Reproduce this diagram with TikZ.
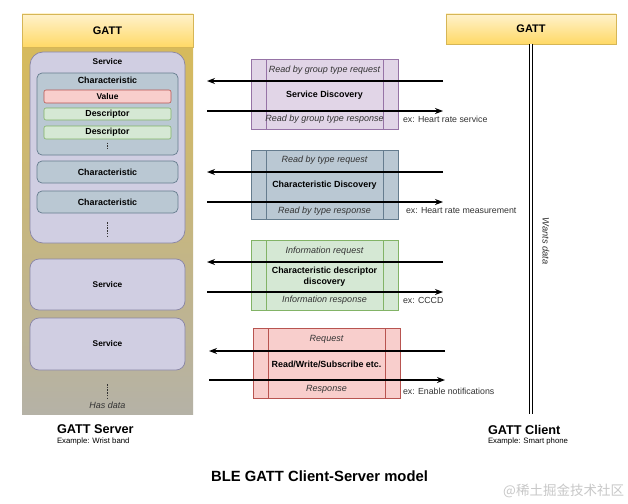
\documentclass[tikz,border=0pt]{standalone}
\usepackage{fontspec}
\setmainfont{Liberation Sans}
\newfontfamily\cjk{Noto Sans CJK SC}
\usetikzlibrary{arrows.meta}
\definecolor{hdrtop}{HTML}{FFF2CC}
\definecolor{hdrbot}{HTML}{FFD966}
\definecolor{hdrline}{HTML}{D6B656}
\definecolor{bodytop}{RGB}{214,186,92}
\definecolor{bodybot}{RGB}{181,178,166}
\definecolor{svcfill}{HTML}{D0CEE2}
\definecolor{svcline}{HTML}{56517E}
\definecolor{chfill}{HTML}{BAC8D3}
\definecolor{chline}{HTML}{23445D}
\definecolor{redfill}{HTML}{F8CECC}
\definecolor{redline}{HTML}{B85450}
\definecolor{grnfill}{HTML}{D5E8D4}
\definecolor{grnline}{HTML}{82B366}
\definecolor{purfill}{HTML}{E1D5E7}
\definecolor{purline}{HTML}{9673A6}
\definecolor{txtgray}{HTML}{333333}
\definecolor{wmgray}{RGB}{200,200,200}
\tikzset{
  base/.style={inner sep=0pt, outer sep=0pt},
  hdr/.style={base, draw=hdrline, line width=0.6pt, top color=hdrtop, bottom color=hdrbot, font=\bfseries\fontsize{11}{13}\selectfont},
  srvbody/.style={base, top color=bodytop, bottom color=bodybot},
  svc/.style={base, draw=svcline!70, line width=0.7pt, fill=svcfill, rounded corners=9pt, font=\bfseries\fontsize{8.3}{10}\selectfont},
  chbox/.style={base, draw=chline!70, line width=0.7pt, fill=chfill, rounded corners=5pt, font=\bfseries\fontsize{8.9}{10}\selectfont},
  valbox/.style={base, draw=redline, line width=0.6pt, fill=redfill, rounded corners=2pt, minimum width=127pt, font=\bfseries\fontsize{8.4}{10}\selectfont},
  descbox/.style={base, draw=grnline, line width=0.6pt, fill=grnfill, rounded corners=2pt, minimum width=127pt, font=\bfseries\fontsize{8.8}{10}\selectfont},
  lbl/.style={base, font=\bfseries\fontsize{8.3}{10}\selectfont},
  proc/.style={base, line width=0.6pt, minimum width=147pt, minimum height=70pt},
  itl/.style={base, text=txtgray, font=\itshape\fontsize{9}{10}\selectfont},
  bld/.style={base, align=center, font=\bfseries\fontsize{8.9}{11}\selectfont},
  extxt/.style={base, anchor=west, text=txtgray, font=\fontsize{8.8}{10}\selectfont},
  msg/.style={line width=1.3pt, -{Stealth[length=8pt,width=6pt]}},
  dots/.style={dash pattern=on 1.5pt off 1.2pt, line width=0.6pt, draw=txtgray},
  bigname/.style={base, anchor=west, font=\bfseries\fontsize{12.7}{14}\selectfont},
  smallname/.style={base, anchor=west, font=\fontsize{7.8}{9}\selectfont},
}
\begin{document}
\begin{tikzpicture}[x=1pt,y=-1pt]
\useasboundingbox (0,0) rectangle (628,503);
\fill[white] (0,0) rectangle (628,503);

% ---------------- GATT server ----------------
\node[srvbody, minimum width=171pt, minimum height=367pt] (srv) at (107.5,230.5) {};
\node[hdr, minimum width=171pt, minimum height=33pt] (srvhdr) at (107.5,30.5) {GATT};

\node[svc, minimum width=155pt, minimum height=191pt, rounded corners=13pt] (svc1) at (107.5,147.5) {};
\node[lbl] (svc1lbl) at (107.5,62) {Service};
\node[chbox, minimum width=141pt, minimum height=82pt] (ch1) at (107.5,114) {};
\node[lbl, font=\bfseries\fontsize{8.9}{10}\selectfont] (ch1lbl) at (107.5,80.5) {Characteristic};
\node[valbox, minimum height=13pt] (val) at (107.5,96.5) {Value};
\node[descbox, minimum height=12pt] (desc1) at (107.5,114) {Descriptor};
\node[descbox, minimum height=13pt] (desc2) at (107.5,132.5) {Descriptor};
\coordinate (d1a) at (107,142.5);
\coordinate (d1b) at (107,148);
\draw[dots] (d1a) -- (d1b);
\node[chbox, minimum width=141pt, minimum height=22pt] (ch2) at (107.5,172) {Characteristic};
\node[chbox, minimum width=141pt, minimum height=22pt] (ch3) at (107.5,202) {Characteristic};
\coordinate (d2a) at (107,222);
\coordinate (d2b) at (107,238);
\draw[dots] (d2a) -- (d2b);

\node[svc, minimum width=155pt, minimum height=51pt] (svc2) at (107.5,284.5) {Service};
\node[svc, minimum width=155pt, minimum height=52pt] (svc3) at (107.5,344) {Service};
\coordinate (d3a) at (107,384);
\coordinate (d3b) at (107,399);
\draw[dots] (d3a) -- (d3b);
\node[itl] (hasdata) at (107.5,405.5) {Has data};

\node[bigname] (srvname) at (57,429.5) {GATT Server};
\node[smallname] (srvex) at (57,441.5) {Example: Wrist band};

% ---------------- GATT client ----------------
\node[hdr, minimum width=170pt, minimum height=30pt] (clihdr) at (531,29) {GATT};
\coordinate (cliend) at (531,414);
\draw[double=white, double distance=2.4pt, line width=0.8pt] (clihdr.south) -- (cliend);
\node[itl, rotate=-90, font=\itshape\fontsize{9.3}{10}\selectfont] (wants) at (546,241) {Wants data};
\node[bigname] (cliname) at (488,429.5) {GATT Client};
\node[smallname] (cliex) at (488,441.5) {Example: Smart phone};

% ---------------- procedures ----------------
% box 1
\node[proc, draw=purline, fill=purfill] (p1) at (324.5,94) {};
\draw[purline, line width=0.6pt] ([xshift=15pt]p1.north west) -- ([xshift=15pt]p1.south west);
\draw[purline, line width=0.6pt] ([xshift=-15pt]p1.north east) -- ([xshift=-15pt]p1.south east);
\node[itl] (p1req) at (324.5,70) {Read by group type request};
\node[bld] (p1name) at (324.5,95.5) {Service Discovery};
\node[itl] (p1res) at (324.5,119.5) {Read by group type response};
\coordinate (p1rs) at (443,81);
\coordinate (p1re) at (207,81);
\coordinate (p1ss) at (207,111);
\coordinate (p1se) at (443,111);
\draw[msg] (p1rs) -- (p1re);
\draw[msg] (p1ss) -- (p1se);
\node[extxt] (p1ex) at (403,119.5) {ex: Heart rate service};

% box 2
\node[proc, draw=chline!70, fill=chfill, minimum height=69pt] (p2) at (324.5,184.5) {};
\draw[chline!70, line width=0.6pt] ([xshift=15pt]p2.north west) -- ([xshift=15pt]p2.south west);
\draw[chline!70, line width=0.6pt] ([xshift=-15pt]p2.north east) -- ([xshift=-15pt]p2.south east);
\node[itl] (p2req) at (324.5,160.5) {Read by type request};
\node[bld] (p2name) at (324.5,185.5) {Characteristic Discovery};
\node[itl] (p2res) at (324.5,211) {Read by type response};
\coordinate (p2rs) at (443,172);
\coordinate (p2re) at (207,172);
\coordinate (p2ss) at (207,202);
\coordinate (p2se) at (443,202);
\draw[msg] (p2rs) -- (p2re);
\draw[msg] (p2ss) -- (p2se);
\node[extxt] (p2ex) at (406,211) {ex: Heart rate measurement};

% box 3
\node[proc, draw=grnline, fill=grnfill] (p3) at (324.5,275) {};
\draw[grnline, line width=0.6pt] ([xshift=15pt]p3.north west) -- ([xshift=15pt]p3.south west);
\draw[grnline, line width=0.6pt] ([xshift=-15pt]p3.north east) -- ([xshift=-15pt]p3.south east);
\node[itl] (p3req) at (324.5,251) {Information request};
\node[bld] (p3name) at (324.5,277) {Characteristic descriptor\\discovery};
\node[itl] (p3res) at (324.5,300.5) {Information response};
\coordinate (p3rs) at (443,262);
\coordinate (p3re) at (207,262);
\coordinate (p3ss) at (207,292);
\coordinate (p3se) at (443,292);
\draw[msg] (p3rs) -- (p3re);
\draw[msg] (p3ss) -- (p3se);
\node[extxt] (p3ex) at (403,300.5) {ex: CCCD};

% box 4
\node[proc, draw=redline, fill=redfill] (p4) at (326.5,363) {};
\draw[redline, line width=0.6pt] ([xshift=15pt]p4.north west) -- ([xshift=15pt]p4.south west);
\draw[redline, line width=0.6pt] ([xshift=-15pt]p4.north east) -- ([xshift=-15pt]p4.south east);
\node[itl] (p4req) at (326.5,339) {Request};
\node[bld] (p4name) at (326.5,364.5) {Read/Write/Subscribe etc.};
\node[itl] (p4res) at (326.5,389) {Response};
\coordinate (p4rs) at (445,351);
\coordinate (p4re) at (209,351);
\coordinate (p4ss) at (209,380);
\coordinate (p4se) at (445,380);
\draw[msg] (p4rs) -- (p4re);
\draw[msg] (p4ss) -- (p4se);
\node[extxt] (p4ex) at (403,391) {ex: Enable notifications};

% ---------------- title & watermark ----------------
\node[base, font=\bfseries\fontsize{14.8}{17}\selectfont] (title) at (319.5,476) {BLE GATT Client-Server model};
\node[base, text=wmgray, font=\cjk\fontsize{13.5}{15}\selectfont, anchor=east] (wm) at (624,491) {@稀土掘金技术社区};
\end{tikzpicture}
\end{document}
